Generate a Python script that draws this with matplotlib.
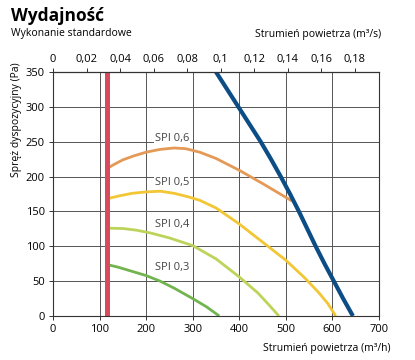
import matplotlib
matplotlib.use("Agg")
import matplotlib.pyplot as plt

plt.rcParams['font.family'] = ['Open Sans', 'DejaVu Sans']

# Data (m3/h, Pa)
red_x = [115, 115]
red_y = [0, 350]
blue_x = [350, 375, 398, 422, 446, 468, 489, 509, 528, 546, 564, 583, 603, 623, 644]
blue_y = [350, 324, 300, 275, 250, 225, 200, 175, 150, 125, 100, 75, 50, 25, 0]
spi06_x = [115, 130, 150, 175, 200, 230, 260, 285, 315, 350, 400, 450, 513]
spi06_y = [211, 217, 224, 230, 235, 239, 241, 240, 235, 226, 209, 190, 165]
spi05_x = [115, 140, 170, 200, 230, 260, 290, 315, 350, 400, 450, 500, 540, 570, 590, 607]
spi05_y = [168, 172, 176, 178, 179, 176, 171, 166, 155, 132, 106, 80, 55, 34, 18, 0]
spi04_x = [115, 150, 180, 210, 250, 300, 350, 400, 440, 465, 485]
spi04_y = [126, 125.5, 123, 119, 112, 101, 82, 56, 33, 15, 0]
spi03_x = [115, 140, 170, 200, 230, 260, 300, 330, 357]
spi03_y = [74, 70, 64, 58, 50, 40, 25, 13, 0]
spi_labels = ["SPI 0,6", "SPI 0,5", "SPI 0,4", "SPI 0,3"]
spi_label_y = [254, 192, 131, 70]
spi_label_x = 255

x_ticks = [0, 100, 200, 300, 400, 500, 600, 700]
y_ticks = [0, 50, 100, 150, 200, 250, 300, 350]
top_ticks = [0, 0.02, 0.04, 0.06, 0.08, 0.1, 0.12, 0.14, 0.16, 0.18]
top_labels = ["0", "0,02", "0,04", "0,06", "0,08", "0,1", "0,12", "0,14", "0,16", "0,18"]

fig = plt.figure(figsize=(4.15, 3.6), dpi=100)
ax = fig.add_axes([53/415, 1-316/360, (379-53)/415, (316-72)/360])

ax.set_xlim(0, 700)
ax.set_ylim(0, 350)
ax.set_xticks(x_ticks)
ax.set_yticks(y_ticks)
ax.grid(True, color='#555555', lw=0.7)
ax.set_axisbelow(True)
for s in ax.spines.values():
    s.set_color('#333333')
    s.set_linewidth(0.8)
ax.tick_params(labelsize=8, length=3, width=0.7, color='#333333', pad=3)

kw = dict(lw=2.0, solid_capstyle='butt', solid_joinstyle='round')
ax.plot(spi03_x, spi03_y, color='#72b450', **kw)
ax.plot(spi04_x, spi04_y, color='#bcd45a', **kw)
ax.plot(spi05_x, spi05_y, color='#f2c634', **kw)
ax.plot(spi06_x, spi06_y, color='#e49a56', **kw)
ax.plot(blue_x, blue_y, color='#0d4d86', lw=3.0, solid_capstyle='butt', solid_joinstyle='round')
ax.plot(red_x, red_y, color='#d84a5e', lw=3.6, solid_capstyle='butt')

for lab, ly in zip(spi_labels, spi_label_y):
    ax.text(spi_label_x, ly, lab, ha='center', va='center', fontsize=8, color='#444444',
            bbox=dict(facecolor='white', edgecolor='none', pad=0.5))

top = ax.secondary_xaxis('top', functions=(lambda x: x/3600, lambda v: v*3600))
top.set_xticks(top_ticks)
top.set_xticklabels(top_labels)
top.tick_params(labelsize=8, length=3, width=0.7, color='#333333', pad=2)

fig.text(11/415, 1-21/360, "Wydajność", fontsize=12.5, fontweight='bold', ha='left', va='baseline')
fig.text(11/415, 1-36/360, "Wykonanie standardowe", fontsize=7.5, ha='left', va='baseline')
fig.text(381/415, 1-37/360, "Strumień powietrza (m³/s)", fontsize=7.5, ha='right', va='baseline')
fig.text(390/415, 1-351/360, "Strumień powietrza (m³/h)", fontsize=7.5, ha='right', va='baseline')
fig.text(17/415, 1-120/360, "Spręż dyspozycyjny (Pa)", fontsize=7.5, rotation=90, ha='center', va='center')

fig.savefig("out.png", dpi=100)
